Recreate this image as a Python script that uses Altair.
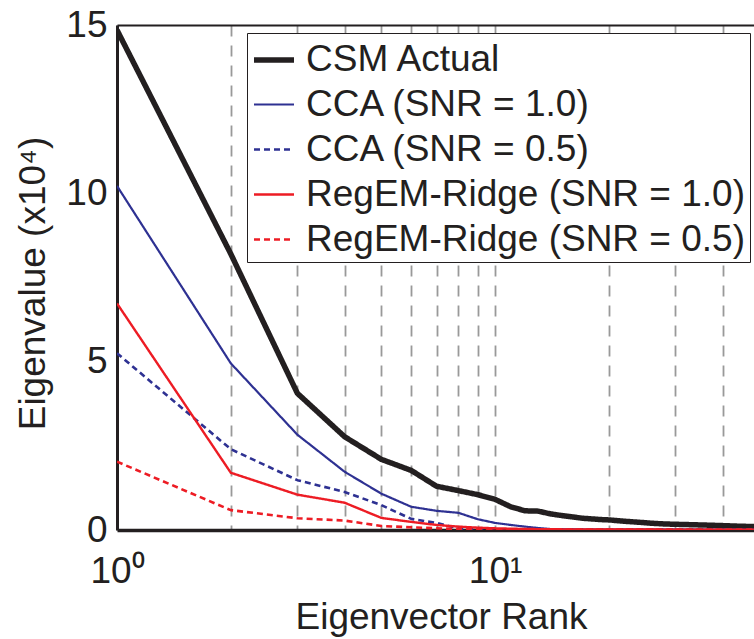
import altair as alt
import pandas as pd

# ---- data ----
series_names = [
    "CSM Actual",
    "CCA (SNR = 1.0)",
    "CCA (SNR = 0.5)",
    "RegEM-Ridge (SNR = 1.0)",
    "RegEM-Ridge (SNR = 0.5)",
]

csm_rank = [1, 2, 3, 4, 5, 6, 7, 8, 9, 10, 11, 12, 13, 14, 15, 16, 17, 18, 19, 20,
            22, 24, 26, 28, 30, 35, 40, 45, 50]
csm_val = [14.85, 8.2, 4.06, 2.77, 2.1, 1.77, 1.3, 1.17, 1.05, 0.91, 0.69, 0.57, 0.56,
           0.48, 0.43, 0.39, 0.35, 0.33, 0.31, 0.30, 0.26, 0.23, 0.20, 0.18, 0.17,
           0.15, 0.13, 0.11, 0.10]

cca1_rank = [1, 2, 3, 4, 5, 6, 7, 8, 9, 10, 11, 12, 13, 14, 15, 20, 30, 50]
cca1_val = [10.22, 4.95, 2.83, 1.73, 1.08, 0.69, 0.57, 0.51, 0.32, 0.21, 0.15, 0.10,
            0.06, 0.03, 0.02, 0.01, 0.01, 0.01]

cca05_rank = [1, 2, 3, 4, 5, 6, 7, 8, 9, 10, 15, 20, 30, 50]
cca05_val = [5.25, 2.4, 1.48, 1.13, 0.74, 0.33, 0.21, 0.04, 0.03, 0.02, 0.01, 0.01,
             0.01, 0.01]

reg1_rank = [1, 2, 3, 4, 5, 6, 7, 8, 9, 10, 12, 15, 20, 30, 50]
reg1_val = [6.73, 1.70, 1.05, 0.81, 0.36, 0.24, 0.15, 0.10, 0.07, 0.05, 0.03, 0.02,
            0.02, 0.01, 0.01]

reg05_rank = [1, 2, 3, 4, 5, 6, 7, 8, 9, 10, 15, 20, 30, 50]
reg05_val = [2.03, 0.59, 0.35, 0.28, 0.12, 0.08, 0.05, 0.03, 0.02, 0.02, 0.01, 0.01,
             0.01, 0.01]

grid_ticks = [1, 2, 3, 4, 5, 6, 7, 8, 9, 10, 20, 30, 40]
y_ticks = [0, 5, 10, 15]

colors = ["#231f20", "#2e3192", "#2e3192", "#ed1c24", "#ed1c24"]
dashes = [[1, 0], [1, 0], [6, 4], [1, 0], [6, 4]]
widths = [5.5, 2.2, 2.6, 2.4, 2.6]

rows = []
for name, ranks, vals in zip(
    series_names,
    [csm_rank, cca1_rank, cca05_rank, reg1_rank, reg05_rank],
    [csm_val, cca1_val, cca05_val, reg1_val, reg05_val],
):
    for r, v in zip(ranks, vals):
        rows.append({"series": name, "rank": r, "value": v})
df = pd.DataFrame(rows)

FONT = "Liberation Sans"
TXT = "#231f20"
FS = 37

x_scale = alt.Scale(type="log", domain=[1, 48.4], nice=False)
y_scale = alt.Scale(domain=[0, 15], nice=False, zero=True)

legend = alt.Legend(
    title=None,
    orient="none",
    legendX=130,
    legendY=8,
    symbolType="stroke",
    symbolSize=1600,
    labelFontSize=37,
    labelFont=FONT,
    labelColor=TXT,
    labelOffset=9,
    labelLimit=0,
    rowPadding=5,
    padding=4,
    fillColor="white",
    strokeColor=TXT,
)

lines = alt.Chart(df).mark_line(clip=True, strokeJoin="round", strokeCap="butt").encode(
    x=alt.X(
        "rank:Q",
        scale=x_scale,
        axis=alt.Axis(
            title="Eigenvector Rank",
            values=grid_ticks,
            labelExpr="datum.value == 1 ? '10⁰' : (datum.value == 10 ? '10¹' : '')",
            grid=True,
            gridColor="#999999",
            gridDash=[11, 9],
            gridWidth=1.8,
            tickSize=0,
            labelPadding=23,
            labelFontSize=FS,
            labelFont=FONT,
            labelColor=TXT,
            labelFlush=False,
            labelOverlap=False,
            domainColor=TXT,
            domainWidth=3.5,
            titleFont=FONT,
            titleFontSize=FS,
            titleFontWeight="normal",
            titleColor=TXT,
            titleBaseline="alphabetic",
            titleY=98,
            titleX=324,
        ),
    ),
    y=alt.Y(
        "value:Q",
        scale=y_scale,
        axis=alt.Axis(
            title="Eigenvalue (x10⁴)",
            values=y_ticks,
            grid=False,
            tickSize=0,
            labelPadding=10,
            labelFontSize=FS,
            labelFont=FONT,
            labelColor=TXT,
            labelFlush=False,
            labelOverlap=False,
            domainColor=TXT,
            domainWidth=3,
            titleFont=FONT,
            titleFontSize=FS,
            titleFontWeight="normal",
            titleColor=TXT,
            titleBaseline="alphabetic",
            titleAngle=270,
            titleX=-73,
            titleY=258,
        ),
    ),
    color=alt.Color("series:N", scale=alt.Scale(domain=series_names, range=colors), legend=legend),
    strokeDash=alt.StrokeDash("series:N", scale=alt.Scale(domain=series_names, range=dashes), legend=legend),
    strokeWidth=alt.StrokeWidth("series:N", scale=alt.Scale(type="ordinal", domain=series_names, range=widths), legend=legend),
)

top_axis = alt.Chart(pd.DataFrame({"rank": grid_ticks})).mark_point(opacity=0).encode(
    x=alt.X(
        "rank:Q",
        scale=x_scale,
        axis=alt.Axis(
            orient="top",
            title=None,
            labels=False,
            grid=False,
            tickSize=0,
            domainColor=TXT,
            domainWidth=2,
        ),
    ),
    y=alt.value(0),
)

chart = (
    alt.layer(lines, top_axis)
    .resolve_axis(x="independent")
    .properties(
        width=637,
        height=505,
        autosize=alt.AutoSizeParams(type="none"),
        padding={"left": 117, "top": 25, "right": 0, "bottom": 109},
    )
    .configure_view(stroke=None)
)

chart.save("out.html", embed_options={"renderer": "svg", "actions": False})
